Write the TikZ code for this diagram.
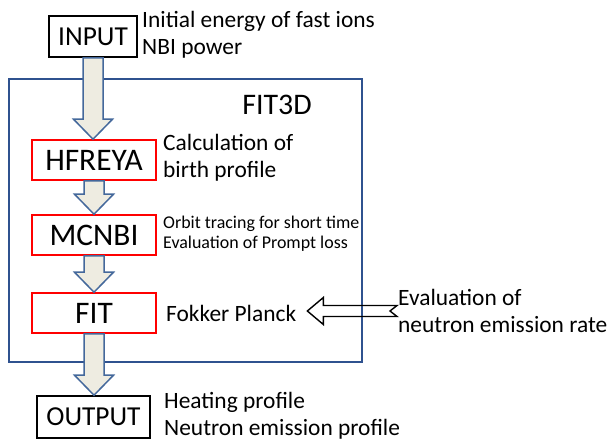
\documentclass[tikz,border=0pt]{standalone}
\usepackage{fontspec}
\setmainfont{Carlito}
\usetikzlibrary{calc}
\definecolor{framebl}{RGB}{47,82,143}
\definecolor{arrowfill}{RGB}{238,236,225}
\definecolor{arrowline}{RGB}{68,104,155}
\tikzset{
  iobox/.style={draw=black, line width=1.6bp, fill=white, inner sep=0pt, font=\fontsize{27.5}{27.5}\selectfont},
  codebox/.style={draw=red, line width=1.6bp, fill=white, minimum width=124bp, minimum height=40bp, inner sep=0pt, font=\fontsize{31.5}{31.5}\selectfont},
  note/.style={anchor=west, align=left, inner sep=0pt, font=\fontsize{23.5}{27}\selectfont},
  smallnote/.style={note, font=\fontsize{18}{20}\selectfont},
  blockarrow/.style={draw=arrowline, fill=arrowfill, line width=1.5bp, line join=miter},
}
% block arrow pointing down from node #1 to node #2
\newcommand{\downblock}[2]{%
  \path[blockarrow] let \p1=(#1.south), \p2=(#2.north) in
    (\x1-10bp,\y1) -- (\x1+10bp,\y1) -- (\x1+10bp,\y2+20bp) -- (\x1+19.5bp,\y2+20bp)
    -- (\x1,\y2) -- (\x1-19.5bp,\y2+20bp) -- (\x1-10bp,\y2+20bp) -- cycle;}
\begin{document}
\begin{tikzpicture}[x=1bp, y=-1bp]
  \useasboundingbox (0,0) rectangle (614,443);

  % 1. outer FIT3D frame
  \node[draw=framebl, line width=2bp, minimum width=353bp, minimum height=283bp, inner sep=0pt] (frame) at (185.5,220.5) {};
  \node[font=\fontsize{30}{30}\selectfont, inner sep=0pt] (fit3d) at (277,105) {FIT3D};

  % 2. input / output boxes
  \node[iobox, minimum width=88bp, minimum height=41bp] (input) at (93,36.5) {INPUT};
  \node[iobox, minimum width=113bp, minimum height=42bp] (output) at (93.5,417) {OUTPUT};

  % 3. code boxes
  \node[codebox] (hfreya) at (94,160) {HFREYA};
  \node[codebox] (mcnbi) at (94,235) {MCNBI};
  \node[codebox] (fit) at (94,313) {FIT};

  % 4. notes
  \node[note] (innote) at (142,35) {Initial energy of fast ions\\NBI power};
  \node[note] (hfnote) at (163,158) {Calculation of\\birth profile};
  \node[smallnote] (mcnote) at (163,234) {Orbit tracing for short time\\Evaluation of Prompt loss};
  \node[note] (fokker) at (166,313) {Fokker Planck};
  \node[note, font=\fontsize{23.5}{28}\selectfont] (eval) at (398,311) {Evaluation of\\neutron emission rate};
  \node[note] (outnote) at (164,416) {Heating profile\\Neutron emission profile};

  % 5. flow arrows
  \downblock{input}{hfreya}
  \downblock{hfreya}{mcnbi}
  \downblock{mcnbi}{fit}
  \downblock{fit}{output}

  % 6. hollow arrow into FIT
  \path[draw, line width=1.4bp, line join=miter] let \p1=(eval.west), \p2=(fokker.east) in
    (\x1-1bp,\y1+5.5bp) -- (\x2+27bp,\y1+5.5bp) -- (\x2+27bp,\y1+13.5bp) -- (\x2+11bp,\y1)
    -- (\x2+27bp,\y1-13.5bp) -- (\x2+27bp,\y1-5.5bp) -- (\x1-1bp,\y1-5.5bp) -- (\x1-8bp,\y1) -- cycle;
\end{tikzpicture}
\end{document}
